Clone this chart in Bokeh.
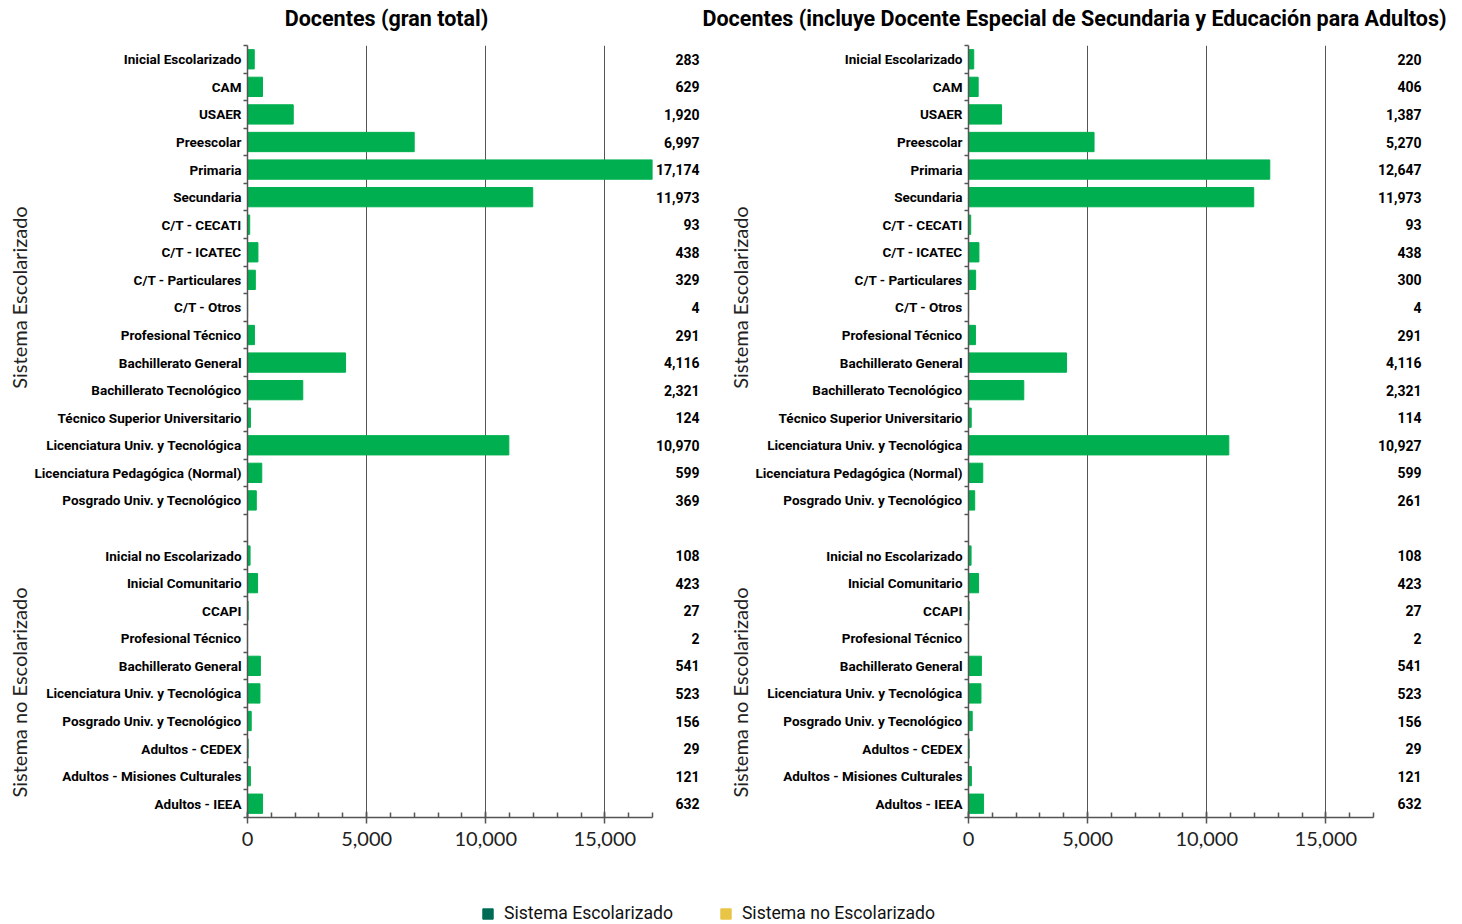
import math
from bokeh.plotting import figure
from bokeh.models import (ColumnDataSource, Range1d, FixedTicker, NumeralTickFormatter,
                          Legend, LegendItem)
from bokeh.layouts import row, column
from bokeh.embed import file_html
from bokeh.resources import INLINE

# ---------------- data ----------------
cats_esc = ["Inicial Escolarizado", "CAM", "USAER", "Preescolar", "Primaria", "Secundaria",
            "C/T - CECATI", "C/T - ICATEC", "C/T - Particulares", "C/T - Otros",
            "Profesional Técnico", "Bachillerato General", "Bachillerato Tecnológico",
            "Técnico Superior Universitario", "Licenciatura Univ. y Tecnológica",
            "Licenciatura Pedagógica (Normal)", "Posgrado Univ. y Tecnológico"]
cats_no = ["Inicial no Escolarizado", "Inicial Comunitario", "CCAPI", "Profesional Técnico",
           "Bachillerato General", "Licenciatura Univ. y Tecnológica",
           "Posgrado Univ. y Tecnológico", "Adultos - CEDEX", "Adultos - Misiones Culturales",
           "Adultos - IEEA"]

total_esc = [283, 629, 1920, 6997, 17174, 11973, 93, 438, 329, 4, 291, 4116, 2321, 124, 10970, 599, 369]
total_no = [108, 423, 27, 2, 541, 523, 156, 29, 121, 632]
incl_esc = [220, 406, 1387, 5270, 12647, 11973, 93, 438, 300, 4, 291, 4116, 2321, 114, 10927, 599, 261]
incl_no = [108, 423, 27, 2, 541, 523, 156, 29, 121, 632]

titles = ["Docentes (gran total)",
          "Docentes (incluye Docente Especial de Secundaria y Educación para Adultos)"]
group_names = ["Sistema Escolarizado", "Sistema no Escolarizado"]
x_ticks = [0, 5000, 10000, 15000]
x_minor = list(range(0, 17001, 1000))
x_max = 17000
legend_colors = ["#006B54", "#E8C547"]

BAR = "#00B050"
AX = "#555555"
BOLD_FONT = "Roboto"
REG_FONT = "Lato"

# row positions: escolarizado rows, one blank row, no escolarizado rows
n_esc, n_no = len(cats_esc), len(cats_no)
ys = list(range(n_esc)) + [n_esc + 1 + i for i in range(n_no)]
labels = cats_esc + cats_no
n_rows = n_esc + 1 + n_no

# ---------------- layout constants (pixels) ----------------
TITLE_H = 40
TOP = 5
FRAME_H = 772
BOTTOM = 48
ROW_PX = FRAME_H / n_rows
FRAME_TOP_PAGE = TITLE_H + TOP
GROUP_CENTERS_PAGE = [297, 692]
PAGE_W = 1446


def blank_fig(w, yr):
    f = figure(width=w, height=TOP + FRAME_H + BOTTOM, frame_width=w, frame_height=FRAME_H,
               x_range=Range1d(0, w), y_range=yr,
               x_axis_location=None, y_axis_location=None,
               toolbar_location=None, output_backend="svg",
               min_border_left=0, min_border_right=0, min_border_top=TOP,
               min_border_bottom=BOTTOM)
    f.outline_line_color = None
    f.grid.visible = False
    return f


def group_fig(w, cx, yr):
    f = blank_fig(w, yr)
    gy = [-0.5 + (c - FRAME_TOP_PAGE) / ROW_PX for c in GROUP_CENTERS_PAGE]
    f.text(x=[cx, cx], y=gy, text=group_names, angle=math.pi / 2,
           text_align="center", text_baseline="middle",
           text_font={"value": REG_FONT}, text_font_size="20px", text_color="#222222")
    return f


def value_fig(w, rx, vals, yr):
    f = blank_fig(w, yr)
    src = ColumnDataSource(dict(y=ys, txt=[f"{v:,}" for v in vals], x=[rx] * len(vals)))
    f.text(x="x", y="y", text="txt", source=src, text_align="right", text_baseline="middle",
           text_font={"value": BOLD_FONT}, text_font_style="bold", text_font_size="14px",
           text_color="#000000")
    return f


def chart(vals, yr):
    src = ColumnDataSource(dict(y=ys, v=vals))
    p = figure(width=624, height=TOP + FRAME_H + BOTTOM, frame_width=405, frame_height=FRAME_H,
               x_range=Range1d(0, x_max), y_range=yr,
               toolbar_location=None, output_backend="svg",
               min_border_left=217, min_border_top=TOP, min_border_bottom=BOTTOM,
               min_border_right=2)
    p.outline_line_color = None
    p.hbar(y="y", right="v", left=0, height=0.7, source=src, color=BAR)

    xa = p.xaxis[0]
    xa.ticker = FixedTicker(ticks=x_ticks, minor_ticks=x_minor)
    xa.formatter = NumeralTickFormatter(format="0,0")
    xa.axis_line_color = AX
    xa.axis_line_width = 1.5
    xa.major_tick_line_color = AX
    xa.major_tick_line_width = 1.5
    xa.major_tick_in = 6
    xa.major_tick_out = 6
    xa.minor_tick_line_color = AX
    xa.minor_tick_line_width = 1.5
    xa.minor_tick_in = 5
    xa.minor_tick_out = 0
    xa.major_label_text_font = REG_FONT
    xa.major_label_text_font_size = "20px"
    xa.major_label_text_color = "#222222"
    xa.major_label_standoff = 8

    ya = p.yaxis[0]
    ya.ticker = FixedTicker(ticks=ys, minor_ticks=[i - 0.5 for i in range(n_rows + 1)])
    ya.major_label_overrides = {y: lab for y, lab in zip(ys, labels)}
    ya.axis_line_color = AX
    ya.axis_line_width = 1.5
    ya.major_tick_in = 0
    ya.major_tick_out = 0
    ya.minor_tick_line_color = AX
    ya.minor_tick_line_width = 1.5
    ya.minor_tick_in = 0
    ya.minor_tick_out = 4
    ya.major_label_text_font = BOLD_FONT
    ya.major_label_text_font_style = "bold"
    ya.major_label_text_font_size = "13.5px"
    ya.major_label_text_color = "#000000"
    ya.major_label_standoff = 2

    p.xgrid.grid_line_color = AX
    p.xgrid.grid_line_width = 1
    p.ygrid.grid_line_color = None
    return p


yr1 = Range1d(n_rows - 0.5, -0.5)
yr2 = Range1d(n_rows - 0.5, -0.5)

g1 = group_fig(30, 18, yr1)
p1 = chart(total_esc + total_no, yr1)
v1 = value_fig(51, 45, total_esc + total_no, yr1)
g2 = group_fig(46, 34, yr2)
p2 = chart(incl_esc + incl_no, yr2)
v2 = value_fig(55, 46, incl_esc + incl_no, yr2)

# titles
tf = figure(width=PAGE_W, height=TITLE_H, frame_width=PAGE_W, frame_height=TITLE_H,
            x_range=Range1d(0, PAGE_W), y_range=Range1d(0, TITLE_H),
            x_axis_location=None, y_axis_location=None, toolbar_location=None,
            output_backend="svg", min_border=0)
tf.outline_line_color = None
tf.grid.visible = False
tf.text(x=[386, 1074], y=[22, 22], text=titles, text_align="center", text_baseline="middle",
        text_font={"value": BOLD_FONT}, text_font_style="bold", text_font_size="21.5px",
        text_color="#000000")

# legend
leg = figure(width=PAGE_W, height=59, frame_width=PAGE_W, frame_height=59,
             x_range=Range1d(0, 1), y_range=Range1d(0, 1),
             x_axis_location=None, y_axis_location=None, toolbar_location=None,
             output_backend="svg", min_border=0)
leg.outline_line_color = None
leg.grid.visible = False
r1 = leg.quad(left=[-3], right=[-2], bottom=[-3], top=[-2], color=legend_colors[0])
r2 = leg.quad(left=[-3], right=[-2], bottom=[-3], top=[-2], color=legend_colors[1])
legend = Legend(items=[LegendItem(label=group_names[0], renderers=[r1]),
                       LegendItem(label=group_names[1], renderers=[r2])],
                orientation="horizontal", location=(481, 1), padding=0, margin=0,
                spacing=46, label_standoff=10, glyph_width=13, glyph_height=13,
                label_text_font="Roboto", label_text_font_size="17.6px",
                label_text_color="#111111", border_line_color=None,
                background_fill_alpha=0)
leg.add_layout(legend, "center")

layout = column(tf, row(g1, p1, v1, g2, p2, v2), leg)
open("out.html", "w").write(file_html(layout, INLINE))
